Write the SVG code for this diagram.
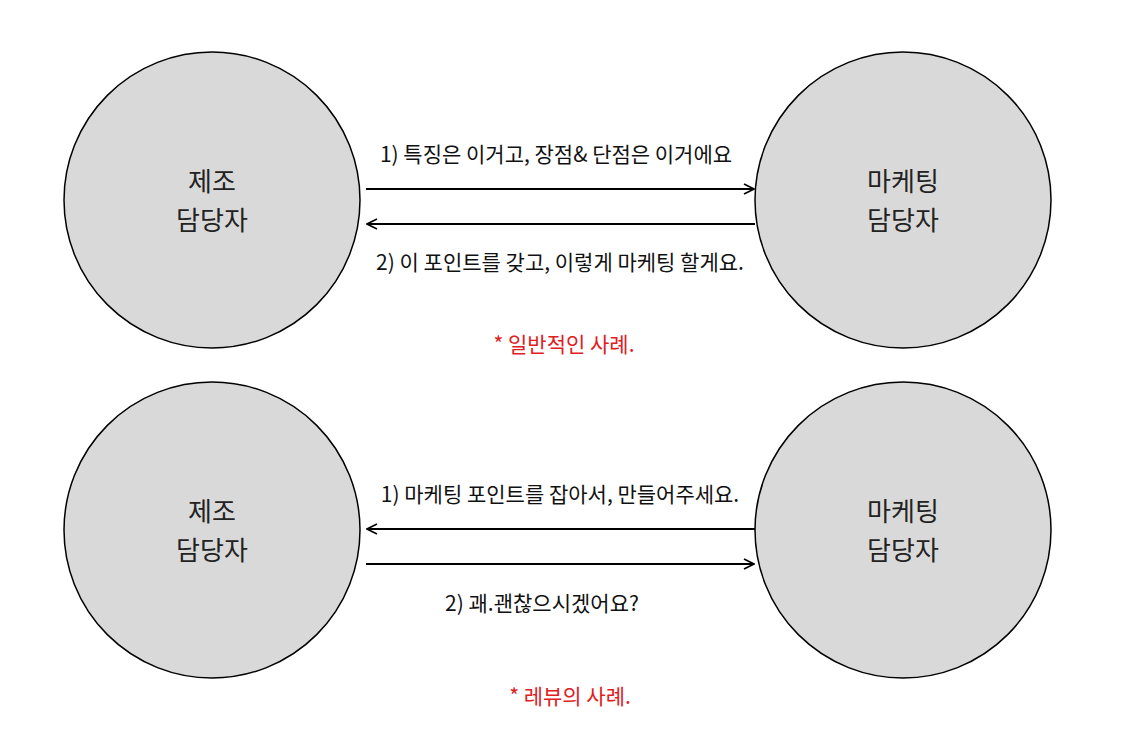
<svg xmlns="http://www.w3.org/2000/svg" width="1134" height="730" viewBox="0 0 1134 730">
<style>
.node{fill:#d9d9d9;stroke:#000;stroke-width:1.5}
.nt{font-family:"Noto Sans CJK KR","Noto Sans",sans-serif;font-size:26px;fill:#222;text-anchor:middle}
.lbl{font-family:"Noto Sans CJK KR","Noto Sans",sans-serif;font-size:21px;fill:#111;text-anchor:middle}
.note{font-family:"Noto Sans CJK KR","Noto Sans",sans-serif;font-size:21px;fill:#e0201e;text-anchor:middle}
.conn{stroke:#000;stroke-width:2;fill:none}
</style>
<defs>
<marker id="ah" viewBox="0 0 12 12" refX="11" refY="6" markerWidth="12" markerHeight="12" markerUnits="userSpaceOnUse" orient="auto">
<path d="M1,1 L11,6 L1,11" fill="none" stroke="#000" stroke-width="1.6"/>
</marker>
</defs>
<rect width="1134" height="730" fill="#fff"/>
<g id="mfg1"><circle class="node" cx="212" cy="200" r="148"/><text class="nt" x="212" y="191">제조</text><text class="nt" x="212" y="230">담당자</text></g>
<g id="mkt1"><circle class="node" cx="903" cy="200" r="148"/><text class="nt" x="903" y="191">마케팅</text><text class="nt" x="903" y="230">담당자</text></g>
<g id="mfg2"><circle class="node" cx="212" cy="530" r="148"/><text class="nt" x="212" y="521">제조</text><text class="nt" x="212" y="560">담당자</text></g>
<g id="mkt2"><circle class="node" cx="903" cy="530" r="148"/><text class="nt" x="903" y="521">마케팅</text><text class="nt" x="903" y="560">담당자</text></g>
<g id="connectors">
<line class="conn" x1="366" y1="189" x2="754" y2="189" marker-end="url(#ah)"/>
<line class="conn" x1="755" y1="224" x2="367" y2="224" marker-end="url(#ah)"/>
<line class="conn" x1="755" y1="529" x2="367" y2="529" marker-end="url(#ah)"/>
<line class="conn" x1="366" y1="564" x2="754" y2="564" marker-end="url(#ah)"/>
<text class="lbl" x="556" y="162">1) 특징은 이거고, 장점&amp; 단점은 이거에요</text>
<text class="lbl" x="560" y="270">2) 이 포인트를 갖고, 이렇게 마케팅 할게요.</text>
<text class="lbl" x="560" y="502">1) 마케팅 포인트를 잡아서, 만들어주세요.</text>
<text class="lbl" x="542" y="611">2) 괘.괜찮으시겠어요?</text>
</g>
<text class="note" x="564" y="352">* 일반적인 사례.</text>
<text class="note" x="570" y="704">* 레뷰의 사례.</text>
</svg>
